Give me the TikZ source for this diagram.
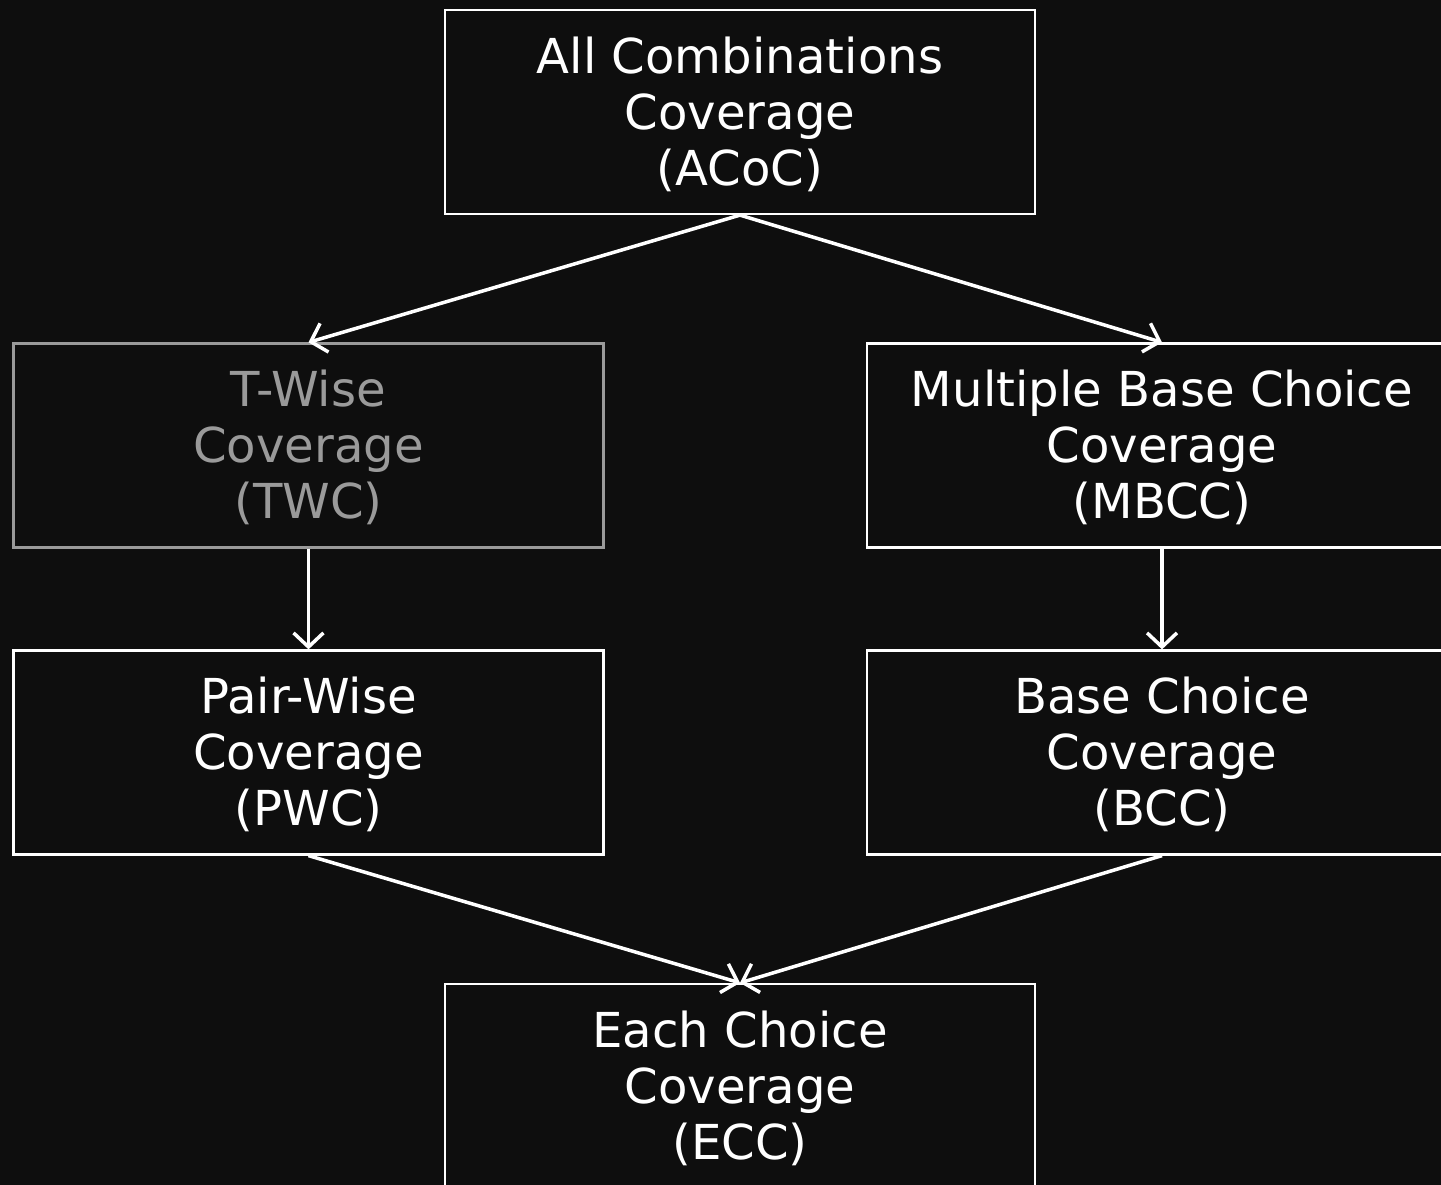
\documentclass[tikz,border=0pt]{standalone}
\usepackage{fontspec}
\setmainfont{DejaVu Sans}
\usetikzlibrary{arrows.meta}
\definecolor{bg}{HTML}{0E0E0E}
\definecolor{dim}{HTML}{9A9A9A}
\newcommand\boxtext[1]{\raisebox{-3.4pt}[\height][\depth]{\begin{tabular}{@{}c@{}}#1\end{tabular}}}
\begin{document}
\begin{tikzpicture}[x=0.02cm,y=-0.02cm,
  b/.style={draw=white,text=white,line width=1.3pt,minimum width=11.8cm,minimum height=4.08cm,inner sep=0pt,font=\fontsize{27.4}{31.8}\selectfont},
  g/.style={b,draw=dim,text=dim},
  e/.style={draw=white,line width=2pt,-{Straight Barb[length=8pt,width=17pt,line width=2pt]}}]
\useasboundingbox (0,0) rectangle (1441,1185);
\clip (0,0) rectangle (1441,1185);
\fill[bg] (0,0) rectangle (1441,1185);
\node[b] (acoc) at (740,112) {\boxtext{All Combinations\\Coverage\\(ACoC)}};
\node[g] (twc) at (308.5,445.5) {\boxtext{T-Wise\\Coverage\\(TWC)}};
\node[b] (mbcc) at (1162,445.5) {\boxtext{Multiple Base Choice\\Coverage\\(MBCC)}};
\node[b] (pwc) at (308.5,752.5) {\boxtext{Pair-Wise\\Coverage\\(PWC)}};
\node[b] (bcc) at (1162,752.5) {\boxtext{Base Choice\\Coverage\\(BCC)}};
\node[b] (ecc) at (740,1086) {\boxtext{Each Choice\\Coverage\\(ECC)}};
\draw[e] (acoc.south)--(twc.north);
\draw[e] (acoc.south)--(mbcc.north);
\draw[e] (twc.south)--(pwc.north);
\draw[e] (mbcc.south)--(bcc.north);
\draw[e] (pwc.south)--(ecc.north);
\draw[e] (bcc.south)--(ecc.north);
\end{tikzpicture}
\end{document}
